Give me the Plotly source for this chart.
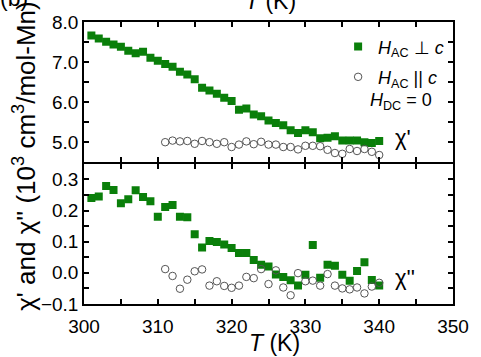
import plotly.graph_objects as go

# Temperatures (K)
T_perp = list(range(301, 341))
T_par = list(range(311, 341))

# chi' (top panel), H_AC perpendicular to c
chi1_perp = [7.66, 7.59, 7.51, 7.44, 7.38, 7.28, 7.22, 7.26, 7.11, 7.03,
             6.95, 6.88, 6.76, 6.69, 6.57, 6.36, 6.29, 6.21, 6.11, 6.03,
             5.81, 5.84, 5.69, 5.65, 5.54, 5.48, 5.42, 5.30, 5.23, 5.30,
             5.25, 5.10, 5.11, 5.15, 5.04, 5.04, 5.04, 5.00, 4.98, 5.03]
# chi' (top panel), H_AC parallel to c
chi1_par = [5.00, 5.04, 5.02, 5.03, 4.96, 5.03, 5.00, 4.96, 5.00, 4.88,
            4.94, 5.02, 4.95, 5.01, 4.94, 4.94, 4.88, 4.88, 4.82, 4.91,
            4.91, 4.90, 4.81, 4.73, 4.71, 4.83, 4.78, 4.83, 4.76, 4.68]
# chi'' (bottom panel), H_AC perpendicular to c
chi2_perp = [0.240, 0.245, 0.279, 0.266, 0.223, 0.236, 0.265, 0.243, 0.230, 0.180,
             0.211, 0.218, 0.180, 0.178, 0.124, 0.081, 0.102, 0.099, 0.091, 0.080,
             0.064, 0.064, 0.041, 0.026, 0.020, -0.005, -0.013, -0.024, -0.041, -0.006,
             0.089, -0.016, 0.026, 0.023, -0.006, -0.025, 0.006, 0.034, -0.023, -0.041]
# chi'' (bottom panel), H_AC parallel to c
chi2_par = [0.012, -0.010, -0.051, -0.022, 0.005, 0.011, -0.041, -0.027, -0.042, -0.048,
            -0.041, -0.013, -0.017, 0.012, -0.036, 0.008, -0.047, -0.072, -0.001, -0.027,
            -0.025, -0.041, -0.004, -0.041, -0.050, -0.053, -0.047, -0.066, -0.044, -0.032]

x_ticks = [300, 310, 320, 330, 340, 350]

GREEN = "#0a7f0a"
GRAY = "#555555"
FONT = "Liberation Sans, Arial, sans-serif"

W, H = 481, 357
L, R, TOP, B = 84, 18, 15.5, 52.5
PW, PH = W - L - R, H - TOP - B
LW = 1.6
GAP = (LW / 2) / PH  # lets the two panels' shared border coincide into one line


def px(x):
    return (x - L) / PW


def py(y):
    return (H - B - y) / PH


fig = go.Figure()

sq = dict(symbol="square", size=8, color=GREEN)
ci = dict(symbol="circle-open", size=7.5, color=GRAY, line=dict(width=1, color=GRAY))

fig.add_trace(go.Scatter(x=T_perp, y=chi1_perp, mode="markers", marker=sq,
                         xaxis="x2", yaxis="y2", legend="legend",
                         name="<i>H</i><sub>AC</sub> \u22a5 <i>c</i>"))
fig.add_trace(go.Scatter(x=T_par, y=chi1_par, mode="markers", marker=ci,
                         xaxis="x2", yaxis="y2", legend="legend2",
                         name="<i>H</i><sub>AC</sub> || <i>c</i>"))
fig.add_trace(go.Scatter(x=T_perp, y=chi2_perp, mode="markers", marker=sq,
                         xaxis="x", yaxis="y", showlegend=False))
fig.add_trace(go.Scatter(x=T_par, y=chi2_par, mode="markers", marker=ci,
                         xaxis="x", yaxis="y", showlegend=False))

axis_common = dict(showline=True, linecolor="black", linewidth=LW, mirror="ticks",
                   ticks="inside", ticklen=5, tickwidth=1.5, tickcolor="black",
                   showgrid=False, zeroline=False,
                   tickfont=dict(family=FONT, size=19, color="black"))
minor_x = dict(dtick=5, ticks="inside", ticklen=5, tickwidth=1.5, tickcolor="black", showgrid=False)

leg_common = dict(xanchor="left", yanchor="middle", bgcolor="rgba(0,0,0,0)",
                  font=dict(family=FONT, size=18, color="black"), borderwidth=0)

fig.update_layout(
    width=W, height=H,
    margin=dict(l=L, r=R, t=TOP, b=B),
    paper_bgcolor="white", plot_bgcolor="white",
    font=dict(family=FONT, color="black"),
    xaxis=dict(domain=[0, 1], range=[300, 350], anchor="y", tickvals=x_ticks,
               ticklabelstandoff=4, minor=minor_x, **axis_common),
    xaxis2=dict(domain=[0, 1], range=[300, 350], anchor="y2", tickvals=x_ticks,
                showticklabels=False, minor=minor_x, matches="x", **axis_common),
    yaxis=dict(domain=[0, 0.5 - GAP], range=[-0.1, 0.35], anchor="x", tick0=0, dtick=0.1,
               tickformat=".1f", minor=dict(dtick=0.05, ticks="inside", ticklen=5, tickwidth=1.5,
                                            tickcolor="black", showgrid=False),
               **axis_common),
    yaxis2=dict(domain=[0.5 + GAP, 1], range=[4.5, 8.0], anchor="x2", tick0=0, dtick=1,
                tickformat=".1f", minor=dict(dtick=0.5, ticks="inside", ticklen=5, tickwidth=1.5,
                                             tickcolor="black", showgrid=False),
                **axis_common),
    showlegend=True,
    legend=dict(x=px(345), y=py(41), **leg_common),
    legend2=dict(x=px(345), y=py(72), **leg_common),
)

ann = [
    dict(text="<i>T</i> (K)", x=px(280), y=py(344), size=23),
    dict(text="\u03c7' and \u03c7'' (10<sup>3</sup> cm<sup>3</sup>/mol-Mn)", x=px(23), y=py(153),
         size=26, textangle=-90),
    dict(text="<i>H</i><sub>DC</sub> = 0", x=px(376), y=py(97), size=18, xanchor="left"),
    dict(text="\u03c7'", x=px(401), y=py(134), size=22, xanchor="left"),
    dict(text="\u03c7''", x=px(401), y=py(277), size=22, xanchor="left"),
    dict(text="(b)", x=px(-4), y=py(-9), size=23, xanchor="left"),
    dict(text="<i>T</i> (K)", x=px(276), y=py(-6), size=23),
]
annotations = []
for a in ann:
    d = dict(text=a["text"], x=a["x"], y=a["y"], xref="paper", yref="paper",
             xanchor=a.get("xanchor", "center"), yanchor="middle", showarrow=False,
             textangle=a.get("textangle", 0),
             font=dict(family=FONT, size=a["size"], color="black"))
    annotations.append(d)
fig.update_layout(annotations=annotations)

# remove the browser's default 8px page margin so the figure sits at the window's corner
fig.write_html("out.html", config={"displayModeBar": False},
               post_script="document.body.style.margin='0';")
